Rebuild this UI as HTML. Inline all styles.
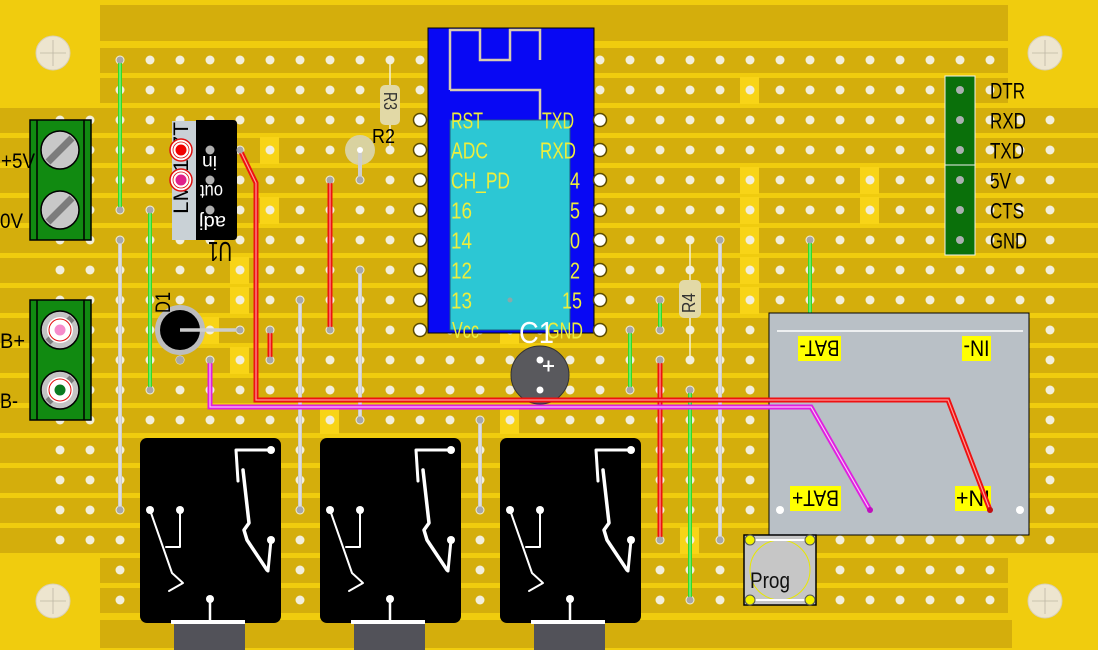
<!DOCTYPE html>
<html><head><meta charset="utf-8"><style>
html,body{margin:0;padding:0;background:#F0CC0E;}
svg{display:block;font-family:"Liberation Sans",sans-serif;}
</style></head><body>
<svg width="1098" height="650" viewBox="0 0 1098 650" xmlns="http://www.w3.org/2000/svg">
<defs>
<pattern id="h" x="45" y="45" width="30" height="30" patternUnits="userSpaceOnUse"><circle cx="15" cy="15" r="4.5" fill="#F2EEDC"/></pattern>
<g id="relay">
<rect x="0" y="0" width="141" height="185" rx="7" fill="#000"/>
<rect x="34" y="185" width="71" height="30" fill="#525259"/>
<g fill="none" stroke="#fff" stroke-linecap="round" stroke-linejoin="round">
<polyline points="10,72 32,135 43,145 29,153" stroke-width="2"/>
<polyline points="40,72 40,109 26,109" stroke-width="2"/>
<polyline points="131,12 96,12 98,43" stroke-width="3"/>
<polyline points="103,32 109,85 104,92 107,102 127,132" stroke-width="3.5"/>
<polyline points="131,102 128,133" stroke-width="3"/>
<line x1="70" y1="161" x2="70" y2="184" stroke-width="2.5"/>
<line x1="31" y1="184" x2="105" y2="184" stroke-width="4" stroke-linecap="butt"/>
</g>
<g fill="#fff"><circle cx="10" cy="72" r="4"/><circle cx="40" cy="72" r="4"/><circle cx="131" cy="12" r="4"/><circle cx="131" cy="102" r="4"/><circle cx="70" cy="161" r="4"/></g>
</g>
</defs>

<rect width="1098" height="650" fill="#F0CC0E"/>
<!-- strips -->
<g fill="#D4AE0C">
<rect x="100" y="5" width="908" height="36"/>
<rect x="100" y="48" width="908" height="25"/>
<rect x="100" y="78" width="908" height="25"/>
<rect x="0" y="108" width="1098" height="25"/>
<rect x="0" y="138" width="1098" height="25"/>
<rect x="0" y="168" width="1098" height="25"/>
<rect x="0" y="198" width="1098" height="25"/>
<rect x="0" y="228" width="1098" height="25"/>
<rect x="0" y="258" width="1098" height="25"/>
<rect x="0" y="288" width="1098" height="25"/>
<rect x="0" y="318" width="1098" height="25"/>
<rect x="0" y="348" width="1098" height="25"/>
<rect x="0" y="378" width="1098" height="25"/>
<rect x="0" y="408" width="1098" height="25"/>
<rect x="0" y="438" width="1098" height="25"/>
<rect x="0" y="468" width="1098" height="25"/>
<rect x="0" y="498" width="1098" height="25"/>
<rect x="0" y="528" width="1098" height="25"/>
<rect x="100" y="558" width="908" height="25"/>
<rect x="100" y="588" width="908" height="25"/>
<rect x="100" y="620" width="912" height="28"/>
</g>
<!-- track cuts -->
<g fill="#F8D417">
<rect x="260" y="137" width="19" height="27"/>
<rect x="260" y="197" width="19" height="27"/>
<rect x="230" y="257" width="19" height="27"/>
<rect x="230" y="287" width="19" height="27"/>
<rect x="200" y="317" width="19" height="27"/>
<rect x="230" y="347" width="19" height="27"/>
<rect x="320" y="407" width="19" height="27"/>
<rect x="500" y="407" width="19" height="27"/>
<rect x="500" y="317" width="19" height="27"/>
<rect x="740" y="77" width="19" height="27"/>
<rect x="740" y="167" width="19" height="27"/>
<rect x="740" y="197" width="19" height="27"/>
<rect x="740" y="227" width="19" height="27"/>
<rect x="740" y="257" width="19" height="27"/>
<rect x="740" y="287" width="19" height="27"/>
<rect x="860" y="167" width="19" height="27"/>
<rect x="860" y="197" width="19" height="27"/>
<rect x="680" y="527" width="19" height="27"/>
</g>
<!-- mounting holes -->
<g fill="#EDE5CF" stroke="#D9D0B6" stroke-width="1">
<circle cx="53" cy="53" r="17"/><circle cx="1045" cy="53" r="17"/><circle cx="53" cy="601" r="17"/><circle cx="1045" cy="601" r="17"/>
</g>
<g stroke="#BDB6A4" stroke-width="0.8">
<path d="M40 53H66M53 40V66M1032 53H1058M1045 40V66M40 601H66M53 588V614M1032 601H1058M1045 588V614"/>
</g>

<!-- holes -->
<rect x="105" y="45" width="900" height="60" fill="url(#h)"/>
<rect x="45" y="105" width="1020" height="450" fill="url(#h)"/>
<rect x="105" y="555" width="900" height="60" fill="url(#h)"/>

<!-- wires -->
<g fill="none" stroke-linecap="round">
<path d="M120 60V210 M150 210V390 M630 330V390 M660 300V330 M690 390V600 M810 240V313" stroke="#2EDC2E" stroke-width="4"/>
<path d="M120 60V210 M150 210V390 M630 330V390 M660 300V330 M690 390V600 M810 240V313" stroke="#A6F5A6" stroke-width="1"/>
<path d="M120 240V510 M300 300V510 M360 270V420 M480 420V510 M720 240V540" stroke="#CDCDCD" stroke-width="4"/>
<path d="M120 240V510 M300 300V510 M360 270V420 M480 420V510 M720 240V540" stroke="#EEEEEE" stroke-width="1"/>
<path d="M330 180V330 M270 330V360 M660 360V540" stroke="#EE1111" stroke-width="5"/>
<path d="M330 180V330 M270 330V360 M660 360V540" stroke="#FF9A9A" stroke-width="1.2"/>
</g>

<!-- wire end dots -->
<g fill="#A8A8A8">
<circle cx="120" cy="60" r="3.5"/><circle cx="120" cy="210" r="3.5"/><circle cx="150" cy="210" r="3.5"/><circle cx="150" cy="390" r="3.5"/>
<circle cx="630" cy="330" r="3.5"/><circle cx="630" cy="390" r="3.5"/><circle cx="660" cy="300" r="3.5"/><circle cx="660" cy="330" r="3.5"/>
<circle cx="690" cy="390" r="3.5"/><circle cx="690" cy="600" r="3.5"/><circle cx="810" cy="240" r="3.5"/>
<circle cx="120" cy="240" r="3.5"/><circle cx="120" cy="510" r="3.5"/><circle cx="300" cy="300" r="3.5"/><circle cx="300" cy="510" r="3.5"/>
<circle cx="360" cy="270" r="3.5"/><circle cx="360" cy="420" r="3.5"/><circle cx="480" cy="420" r="3.5"/><circle cx="480" cy="510" r="3.5"/>
<circle cx="720" cy="240" r="3.5"/><circle cx="720" cy="540" r="3.5"/>
<circle cx="330" cy="180" r="3.5"/><circle cx="330" cy="330" r="3.5"/><circle cx="270" cy="330" r="3.5"/><circle cx="270" cy="360" r="3.5"/>
<circle cx="660" cy="360" r="3.5"/><circle cx="660" cy="540" r="3.5"/>
</g>

<!-- terminal blocks -->
<rect x="30" y="120" width="61" height="120" fill="#118A11" stroke="#000" stroke-width="1.5"/>
<path d="M37 120V240M84 120V240" stroke="#000" stroke-width="1.5"/>
<g>
<circle cx="60" cy="150" r="19" fill="#C8C8C8" stroke="#000" stroke-width="1.5"/>
<line x1="48" y1="162" x2="72" y2="138" stroke="#7C7C7C" stroke-width="7"/>
<circle cx="60" cy="210" r="19" fill="#C8C8C8" stroke="#000" stroke-width="1.5"/>
<line x1="48" y1="222" x2="72" y2="198" stroke="#7C7C7C" stroke-width="7"/>
</g>
<rect x="30" y="300" width="61" height="120" fill="#118A11" stroke="#000" stroke-width="1.5"/>
<path d="M37 300V420M84 300V420" stroke="#000" stroke-width="1.5"/>
<g>
<circle cx="60" cy="330" r="19" fill="#C4C4C4" stroke="#000" stroke-width="1.5"/>
<line x1="48" y1="342" x2="72" y2="318" stroke="#7C7C7C" stroke-width="7"/>
<circle cx="60" cy="330" r="13" fill="#fff"/>
<circle cx="60" cy="330" r="11" fill="none" stroke="#E01010" stroke-width="1"/>
<circle cx="60" cy="330" r="5.5" fill="#F58BCB"/>
<circle cx="60" cy="390" r="19" fill="#C4C4C4" stroke="#000" stroke-width="1.5"/>
<line x1="48" y1="402" x2="72" y2="378" stroke="#7C7C7C" stroke-width="7"/>
<circle cx="60" cy="390" r="13" fill="#fff"/>
<circle cx="60" cy="390" r="11" fill="none" stroke="#E01010" stroke-width="1"/>
<circle cx="60" cy="390" r="5.5" fill="#0A7A20"/>
</g>
<g font-size="21" fill="#000">
<text x="1" y="168" textLength="34" lengthAdjust="spacingAndGlyphs">+5V</text>
<text x="0" y="228" textLength="23" lengthAdjust="spacingAndGlyphs">0V</text>
<text x="0" y="348" textLength="25" lengthAdjust="spacingAndGlyphs">B+</text>
<text x="0" y="408" textLength="18" lengthAdjust="spacingAndGlyphs">B-</text>
</g>

<!-- U1 regulator -->
<rect x="172" y="121" width="24" height="119" fill="#C9D1D6"/>
<path d="M196 120H233Q237 120 237 124V236Q237 240 233 240H196Z" fill="#000"/>
<text transform="translate(188,214) rotate(-90)" font-size="21" textLength="92" lengthAdjust="spacingAndGlyphs" fill="#000">LM1117T</text>
<circle cx="181" cy="150" r="11" fill="#fff" stroke="#E01010" stroke-width="1.5"/>
<circle cx="181" cy="150" r="8" fill="none" stroke="#E01010" stroke-width="0.8"/>
<circle cx="181" cy="150" r="5.5" fill="#F00000"/>
<circle cx="181" cy="180" r="11" fill="#fff" stroke="#E01010" stroke-width="1.5"/>
<circle cx="181" cy="180" r="8" fill="none" stroke="#E01010" stroke-width="0.8"/>
<circle cx="181" cy="180" r="5.5" fill="#E0208A"/>
<g fill="#AFAFAF"><circle cx="210" cy="150" r="4.5"/><circle cx="210" cy="180" r="4.5"/><circle cx="210" cy="210" r="4.5"/></g>
<g fill="#fff" font-size="19">
<text transform="translate(217,156) rotate(180)" textLength="15" lengthAdjust="spacingAndGlyphs">in</text>
<text transform="translate(223,185) rotate(180)" textLength="23" lengthAdjust="spacingAndGlyphs">out</text>
<text transform="translate(226,216) rotate(180)" textLength="27" lengthAdjust="spacingAndGlyphs">adj</text>
</g>
<text transform="translate(232,242) rotate(180)" font-size="28" textLength="24" lengthAdjust="spacingAndGlyphs" fill="#000">U1</text>

<!-- D1 -->
<circle cx="180" cy="330" r="25" fill="#BDBDBD"/>
<circle cx="180" cy="330" r="20" fill="#000"/>
<line x1="180" y1="330" x2="240" y2="330" stroke="#CDCDCD" stroke-width="3.5"/>
<circle cx="240" cy="330" r="3.5" fill="#A8A8A8"/>
<circle cx="180" cy="360" r="4" fill="#A8A8A8"/>
<text transform="translate(170,313) rotate(-90)" font-size="21" textLength="21" lengthAdjust="spacingAndGlyphs" fill="#000">D1</text>

<!-- R2, R3 -->
<circle cx="360" cy="150" r="15" fill="#D9D2A0"/>
<line x1="360" y1="150" x2="360" y2="180" stroke="#CDCDCD" stroke-width="4"/>
<circle cx="360" cy="150" r="3" fill="#fff"/><circle cx="360" cy="180" r="3.5" fill="#A8A8A8"/>
<line x1="390" y1="60" x2="390" y2="150" stroke="#F4F0D8" stroke-width="1.5"/>
<rect x="380" y="85" width="20" height="40" rx="5" fill="#E2D9A6"/>
<text transform="translate(384,92) rotate(90)" font-size="18" textLength="18" lengthAdjust="spacingAndGlyphs" fill="#333">R3</text>
<text x="372" y="143" font-size="20" textLength="23" lengthAdjust="spacingAndGlyphs" fill="#000">R2</text>

<!-- R4 -->
<line x1="690" y1="240" x2="690" y2="360" stroke="#F4F0D8" stroke-width="1.5"/>
<rect x="679" y="280" width="22" height="38" rx="5" fill="#E2D9A6"/>
<text transform="translate(695,313) rotate(-90)" font-size="18" textLength="20" lengthAdjust="spacingAndGlyphs" fill="#333">R4</text>

<!-- ESP module -->
<rect x="428" y="28" width="166" height="305" fill="#0808F4" stroke="#000" stroke-width="1"/>
<g fill="none" stroke="#D9CCB0" stroke-width="2.5">
<path d="M450 90V30H480V60H510V30H540V60"/>
<path d="M450 90H540V120"/>
</g>
<rect x="450" y="120" width="120" height="210" fill="#2CC7D4" stroke="#1B5A80" stroke-width="1"/>
<circle cx="510" cy="300" r="2.5" fill="#8AA"/>
<g fill="#fff" stroke="#5A4A00" stroke-width="1.5">
<circle cx="420" cy="120" r="6.5"/><circle cx="420" cy="150" r="6.5"/><circle cx="420" cy="180" r="6.5"/><circle cx="420" cy="210" r="6.5"/>
<circle cx="420" cy="240" r="6.5"/><circle cx="420" cy="270" r="6.5"/><circle cx="420" cy="300" r="6.5"/><circle cx="420" cy="330" r="6.5"/>
<circle cx="600" cy="120" r="6.5"/><circle cx="600" cy="150" r="6.5"/><circle cx="600" cy="180" r="6.5"/><circle cx="600" cy="210" r="6.5"/>
<circle cx="600" cy="240" r="6.5"/><circle cx="600" cy="270" r="6.5"/><circle cx="600" cy="300" r="6.5"/><circle cx="600" cy="330" r="6.5"/>
</g>
<g fill="#EEEE3C" font-size="23">
<text x="451" y="128.5" textLength="32" lengthAdjust="spacingAndGlyphs">RST</text>
<text x="451" y="158.5" textLength="37" lengthAdjust="spacingAndGlyphs">ADC</text>
<text x="451" y="188.5" textLength="59" lengthAdjust="spacingAndGlyphs">CH_PD</text>
<text x="451" y="218.5" textLength="21" lengthAdjust="spacingAndGlyphs">16</text>
<text x="451" y="248.5" textLength="21" lengthAdjust="spacingAndGlyphs">14</text>
<text x="451" y="278.5" textLength="21" lengthAdjust="spacingAndGlyphs">12</text>
<text x="451" y="308.5" textLength="21" lengthAdjust="spacingAndGlyphs">13</text>
<text x="452" y="338" textLength="27" lengthAdjust="spacingAndGlyphs">Vcc</text>
<text x="542" y="128.5" textLength="32" lengthAdjust="spacingAndGlyphs">TXD</text>
<text x="540" y="158.5" textLength="36" lengthAdjust="spacingAndGlyphs">RXD</text>
<text x="570" y="188.5" textLength="10" lengthAdjust="spacingAndGlyphs">4</text>
<text x="570" y="218.5" textLength="10" lengthAdjust="spacingAndGlyphs">5</text>
<text x="570" y="248.5" textLength="10" lengthAdjust="spacingAndGlyphs">0</text>
<text x="570" y="278.5" textLength="10" lengthAdjust="spacingAndGlyphs">2</text>
<text x="562" y="308.5" textLength="20" lengthAdjust="spacingAndGlyphs">15</text>
<text x="547" y="338.5" textLength="36" lengthAdjust="spacingAndGlyphs">GND</text>
</g>

<!-- C1 -->
<circle cx="540" cy="375" r="29" fill="#59595D" stroke="#333" stroke-width="1"/>
<circle cx="540" cy="360" r="3.5" fill="#fff"/>
<circle cx="540" cy="390" r="3.5" fill="#fff"/>
<path d="M543 366H554M548.5 360.5V371.5" stroke="#fff" stroke-width="2"/>

<!-- header -->
<rect x="945" y="76" width="30" height="179" fill="#0A700A" stroke="#F0F0F0" stroke-width="1"/>
<line x1="945" y1="165" x2="975" y2="165" stroke="#F0F0F0" stroke-width="1"/>
<g fill="#A9B0B0"><circle cx="960" cy="90" r="4"/><circle cx="960" cy="120" r="4"/><circle cx="960" cy="150" r="4"/><circle cx="960" cy="180" r="4"/><circle cx="960" cy="210" r="4"/><circle cx="960" cy="240" r="4"/></g>
<g fill="#000" font-size="22">
<text x="990" y="98.5" textLength="35" lengthAdjust="spacingAndGlyphs">DTR</text>
<text x="990" y="128.5" textLength="36" lengthAdjust="spacingAndGlyphs">RXD</text>
<text x="990" y="158.5" textLength="34" lengthAdjust="spacingAndGlyphs">TXD</text>
<text x="990" y="188.5" textLength="21" lengthAdjust="spacingAndGlyphs">5V</text>
<text x="990" y="218.5" textLength="34" lengthAdjust="spacingAndGlyphs">CTS</text>
<text x="990" y="248.5" textLength="37" lengthAdjust="spacingAndGlyphs">GND</text>
</g>

<!-- charger module -->
<rect x="769" y="313" width="260" height="222" fill="#B9C0C6" stroke="#000" stroke-width="1"/>
<line x1="777" y1="331" x2="1023" y2="331" stroke="#fff" stroke-width="1.5"/>
<g fill="#FFFF00">
<rect x="798" y="336" width="43" height="25"/>
<rect x="962" y="336" width="29" height="25"/>
<rect x="790" y="486" width="51" height="25"/>
<rect x="955" y="486" width="36" height="25"/>
</g>
<g fill="#000" font-size="22" text-anchor="middle">
<text transform="translate(819.5,340.5) rotate(180)" textLength="40" lengthAdjust="spacingAndGlyphs">BAT-</text>
<text transform="translate(976.5,340.5) rotate(180)" textLength="26" lengthAdjust="spacingAndGlyphs">IN-</text>
<text transform="translate(815.5,490.5) rotate(180)" textLength="47" lengthAdjust="spacingAndGlyphs">BAT+</text>
<text transform="translate(973,490.5) rotate(180)" textLength="34" lengthAdjust="spacingAndGlyphs">IN+</text>
</g>
<circle cx="780" cy="510" r="4" fill="#fff"/><circle cx="1020" cy="510" r="4" fill="#fff"/>

<!-- Prog button -->
<rect x="744" y="535" width="72" height="70" fill="#C6C6C6" stroke="#000" stroke-width="1.5"/>
<circle cx="780" cy="570" r="30" fill="none" stroke="#E8E800" stroke-width="1"/>
<path d="M750 540H810M750 600H810" stroke="#fff" stroke-width="2"/>
<g fill="#F2F200" stroke="#555" stroke-width="1">
<circle cx="750" cy="540" r="5"/><circle cx="810" cy="540" r="5"/><circle cx="750" cy="600" r="5"/><circle cx="810" cy="600" r="5"/>
</g>
<text x="750" y="588" font-size="22" textLength="40" lengthAdjust="spacingAndGlyphs" fill="#111">Prog</text>

<!-- relays -->
<use href="#relay" x="140" y="438"/>
<use href="#relay" x="320" y="438"/>
<use href="#relay" x="500" y="438"/>

<!-- long wires on top -->
<g fill="none" stroke-linejoin="miter">
<polyline points="240,150 256,183 256,400 948,400 990,510" stroke="#EE1111" stroke-width="5"/>
<polyline points="240,150 256,183 256,400 948,400 990,510" stroke="#FF9A9A" stroke-width="1.2"/>
<polyline points="210,360 210,407 811,407 870,510" stroke="#E020E0" stroke-width="5"/>
<polyline points="210,360 210,407 811,407 870,510" stroke="#F9C4F9" stroke-width="1.2"/>
</g>
<g fill="#A8A8A8"><circle cx="240" cy="150" r="3.5"/><circle cx="210" cy="360" r="3.5"/></g>
<circle cx="990" cy="510" r="3" fill="#C01010"/><circle cx="870" cy="510" r="3" fill="#C010C0"/>

<!-- C1 label -->
<text x="519" y="343" font-size="31" textLength="35" lengthAdjust="spacingAndGlyphs" fill="#fff">C1</text>
</svg>
</body></html>
